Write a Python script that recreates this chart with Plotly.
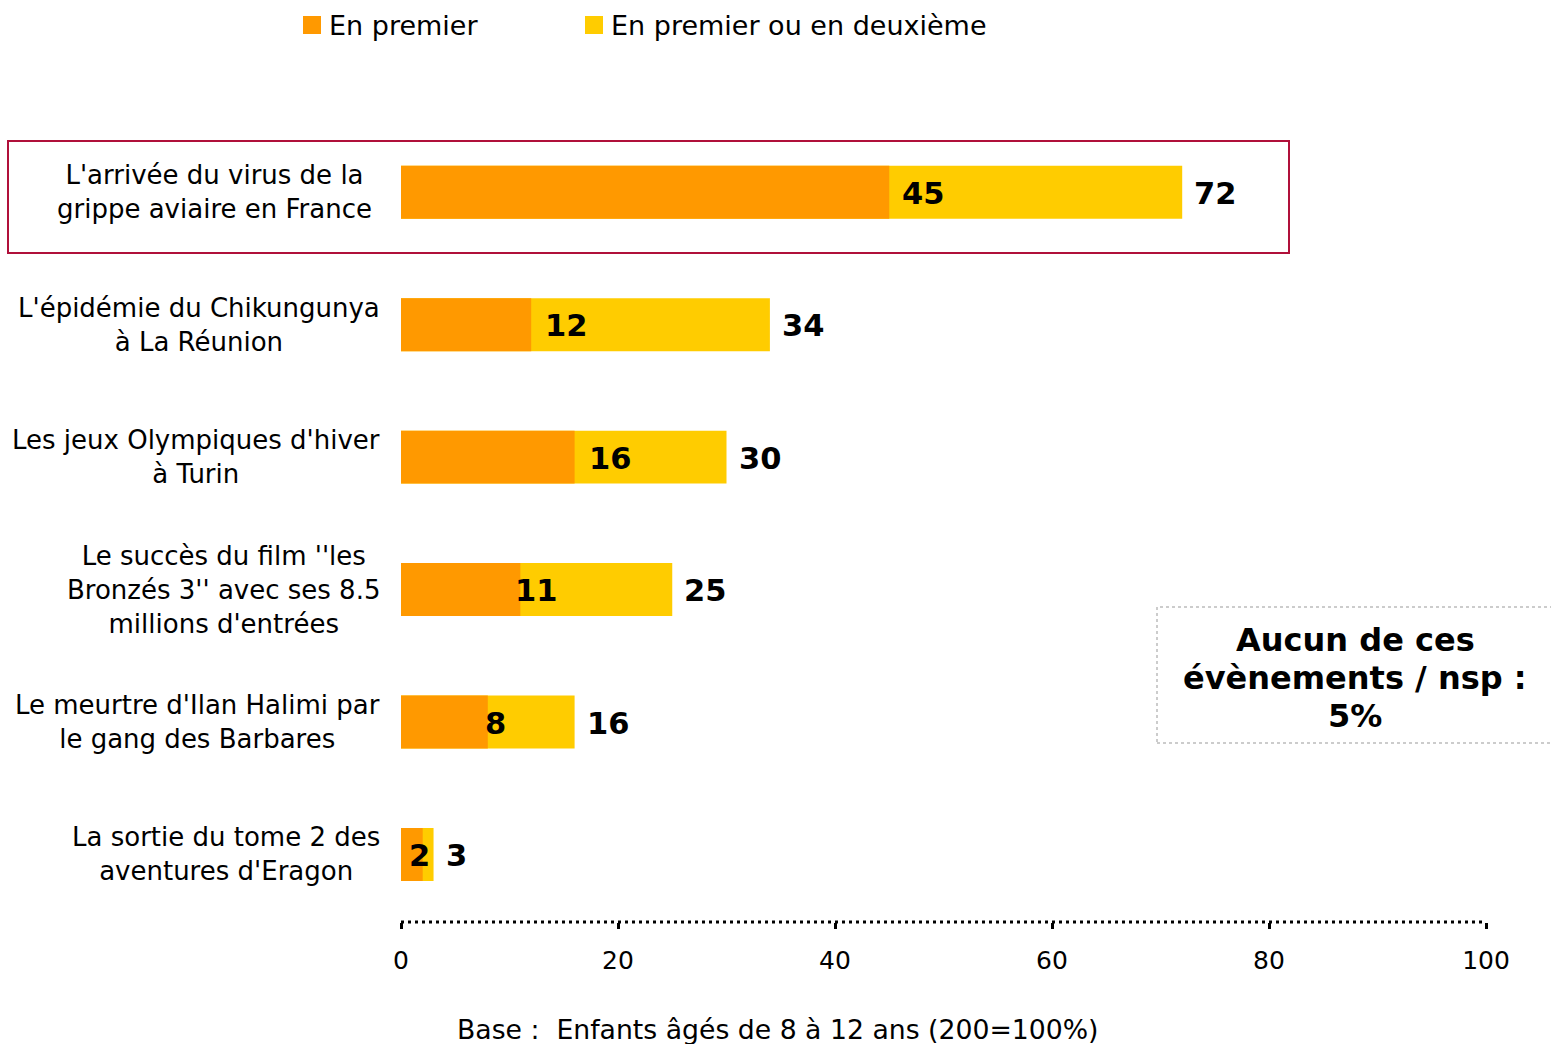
import plotly.graph_objects as go

# ---------------- data ----------------
categories = [
    "L'arrivée du virus de la<br>grippe aviaire en France",
    "L'épidémie du Chikungunya<br>à La Réunion",
    "Les jeux Olympiques d'hiver<br>à Turin",
    "Le succès du film ''les<br>Bronzés 3'' avec ses 8.5<br>millions d'entrées",
    "Le meurtre d'Ilan Halimi par<br>le gang des Barbares",
    "La sortie du tome 2 des<br>aventures d'Eragon",
]
en_premier = [45, 12, 16, 11, 8, 2]
premier_ou_deuxieme = [72, 34, 30, 25, 16, 3]
series_names = ["En premier", "En premier ou en deuxième"]
x_ticks = [0, 20, 40, 60, 80, 100]
note_lines = ["Aucun de ces", "évènements / nsp :", "5%"]
base_text = "Base :  Enfants âgés de 8 à 12 ans (200=100%)"

# ---------------- style ----------------
W, H = 1551, 1044
ML, MR, MT, MB = 401, 65, 126, 122
ORANGE = "#FF9900"
YELLOW = "#FFCC00"
RED = "#B0103A"
FONT = "DejaVu Sans"
label_nudge = [11, 12, 12, -7, -5, -16]  # pixel nudges of the first-value labels
cat_right = [374, 382, 382, 382, 382, 382]  # right edge (px) of each category label block

PW = W - ML - MR
PH = H - MT - MB


def px(xp):
    return (xp - ML) / PW


def py(yp):
    return (H - MB - yp) / PH


ypos = list(range(len(categories)))

fig = go.Figure()
fig.add_trace(go.Bar(
    y=ypos, x=premier_ou_deuxieme, orientation="h", width=0.40,
    marker=dict(color=YELLOW, line=dict(width=0)), name=series_names[1],
    showlegend=False, hoverinfo="x",
))
fig.add_trace(go.Bar(
    y=ypos, x=en_premier, orientation="h", width=0.40,
    marker=dict(color=ORANGE, line=dict(width=0)), name=series_names[0],
    showlegend=False, hoverinfo="x",
))

annotations = []
shapes = []

# category labels
for i, c in enumerate(categories):
    annotations.append(dict(
        x=px(cat_right[i]), xref="paper", y=i, yref="y", text=c, showarrow=False,
        xanchor="right", yanchor="middle", align="center",
        font=dict(family=FONT, size=26, color="black"),
    ))

# value labels
for i, (a, b) in enumerate(zip(en_premier, premier_ou_deuxieme)):
    annotations.append(dict(
        x=a, xref="x", y=i, yref="y", text=f"<b>{a}</b>", showarrow=False,
        xanchor="left", yanchor="middle", xshift=label_nudge[i], yshift=-1,
        font=dict(family=FONT, size=30.5, color="black"),
    ))
    annotations.append(dict(
        x=b, xref="x", y=i, yref="y", text=f"<b>{b}</b>", showarrow=False,
        xanchor="left", yanchor="middle", xshift=10, yshift=-1,
        font=dict(family=FONT, size=30.5, color="black"),
    ))

# custom legend
legend_items = [(series_names[0], ORANGE, 303), (series_names[1], YELLOW, 585)]
for name, col, x0 in legend_items:
    shapes.append(dict(
        type="rect", xref="paper", yref="paper",
        x0=px(x0), x1=px(x0 + 18), y0=py(34), y1=py(16),
        fillcolor=col, line=dict(width=0),
    ))
    annotations.append(dict(
        x=px(x0 + 24), xref="paper", y=py(25), yref="paper", text=name,
        showarrow=False, xanchor="left", yanchor="middle",
        font=dict(family=FONT, size=27, color="black"),
    ))

# highlight box around first category
shapes.append(dict(
    type="rect", xref="paper", yref="paper",
    x0=px(8), x1=px(1289), y0=py(253), y1=py(141),
    line=dict(color=RED, width=2), fillcolor="rgba(0,0,0,0)",
))

# note box
shapes.append(dict(
    type="rect", xref="paper", yref="paper",
    x0=px(1157), x1=px(1560), y0=py(743), y1=py(607),
    line=dict(color="#999999", width=1, dash="dot"), fillcolor="white",
))
for k, line in enumerate(note_lines):
    annotations.append(dict(
        x=px(1355), xref="paper", y=py(640 + 38 * k), yref="paper", text=f"<b>{line}</b>",
        showarrow=False, xanchor="center", yanchor="middle", align="center",
        font=dict(family=FONT, size=32, color="black"),
    ))

# dotted axis line
shapes.append(dict(
    type="line", xref="x", yref="paper", x0=x_ticks[0], x1=x_ticks[-1], y0=0, y1=0,
    line=dict(color="black", width=3, dash="3px,4px"),
))

# base text
annotations.append(dict(
    x=px(777), xref="paper", y=py(1029), yref="paper", text=base_text,
    showarrow=False, xanchor="center", yanchor="middle",
    font=dict(family=FONT, size=26.7, color="black"),
))

fig.update_layout(
    width=W, height=H,
    margin=dict(l=ML, r=MR, t=MT, b=MB, pad=0),
    paper_bgcolor="white", plot_bgcolor="white",
    barmode="overlay", showlegend=False,
    annotations=annotations, shapes=shapes,
    font=dict(family=FONT, color="black"),
)
fig.update_xaxes(
    range=[x_ticks[0], x_ticks[-1]], tickvals=x_ticks, ticktext=[str(t) for t in x_ticks],
    showgrid=False, zeroline=False, showline=False,
    ticks="outside", ticklen=6, tickwidth=3, tickcolor="black",
    ticklabelstandoff=10,
    tickfont=dict(family=FONT, size=25, color="black"),
)
fig.update_yaxes(
    range=[5.51, -0.5], showticklabels=False, showgrid=False, zeroline=False,
    showline=False, ticks="",
)

fig.write_html(
    "out.html",
    config={"displayModeBar": False},
    post_script="document.body.style.margin='0';document.body.style.overflow='hidden';",
)
